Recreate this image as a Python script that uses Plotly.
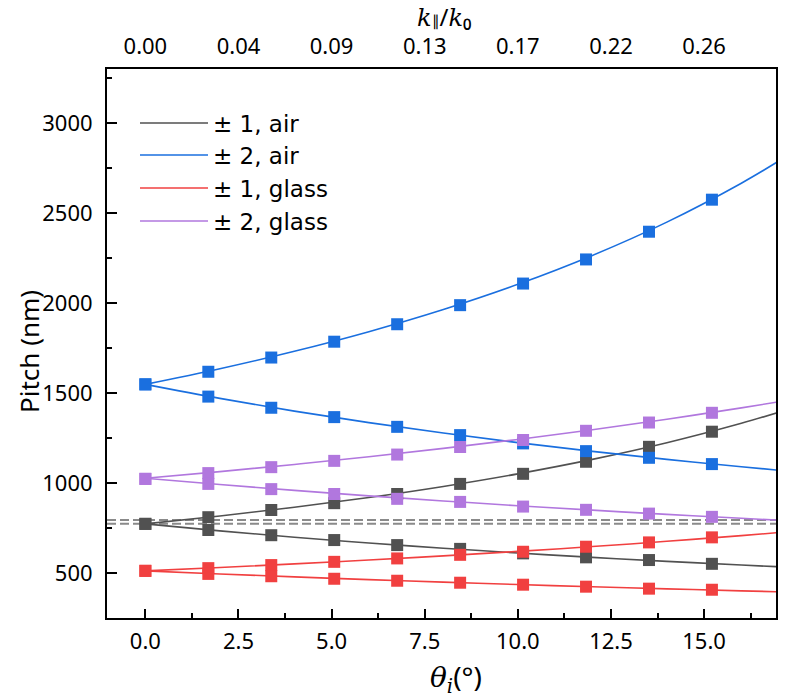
import plotly.graph_objects as go

# ---------------- data ----------------
# marker (simulated) points
theta_m = [0, 1.69, 3.38, 5.07, 6.76, 8.45, 10.14, 11.83, 13.52, 15.21]
air1_plus_m = [775, 812, 852, 890, 941, 997, 1053, 1120, 1203, 1287]
air1_minus_m = [775, 741, 712, 685, 657, 636, 611, 589, 574, 553]
air2_plus_m = [1550, 1620, 1699, 1787, 1884, 1990, 2110, 2244, 2398, 2576]
air2_minus_m = [1550, 1482, 1420, 1368, 1314, 1268, 1222, 1179, 1142, 1107]
glass1_plus_m = [514, 529, 546, 564, 583, 603, 620, 648, 672, 700]
glass1_minus_m = [514, 497, 484, 470, 459, 448, 437, 426, 415, 409]
glass2_plus_m = [1025, 1057, 1090, 1125, 1160, 1202, 1241, 1292, 1338, 1392]
glass2_minus_m = [1025, 997, 968, 941, 914, 897, 871, 853, 832, 814]

# line (analytical) points
theta_l = [0, 2, 4, 6, 8, 10, 12, 14, 16, 17]
air1_plus_l = [775, 818.4, 866.9, 921.4, 982.9, 1052.9, 1133.1, 1225.7, 1333.8, 1394.9]
air1_minus_l = [775, 736.0, 700.7, 668.7, 639.7, 613.2, 588.9, 566.6, 546.2, 536.6]
air2_plus_l = [1550, 1636.8, 1733.8, 1842.8, 1965.8, 2105.8, 2266.2, 2451.4, 2667.6, 2789.8]
air2_minus_l = [1550, 1472.0, 1401.4, 1337.4, 1279.4, 1226.4, 1177.8, 1133.2, 1092.4, 1073.2]
glass1_plus_l = [514, 532.6, 552.5, 574.0, 597.1, 622.0, 648.9, 678.0, 709.6, 726.4]
glass1_minus_l = [514, 496.7, 480.5, 465.4, 451.2, 438.0, 425.5, 413.9, 402.9, 397.7]
glass2_plus_l = [1028, 1065.2, 1105.1, 1148.0, 1194.2, 1244.0, 1297.8, 1356.1, 1419.2, 1452.7]
glass2_minus_l = [1028, 993.3, 961.0, 930.7, 902.4, 875.9, 851.1, 827.7, 805.9, 795.4]

ref_levels = [775, 797]

names = ["± 1, air", "± 2, air", "± 1, glass", "± 2, glass"]
colors = ["#515151", "#1A6FDF", "#F14040", "#B177DE"]

x_ticks = [0, 2.5, 5, 7.5, 10, 12.5, 15]
x_ticktext = ["0.0", "2.5", "5.0", "7.5", "10.0", "12.5", "15.0"]
top_ticktext = ["0.00", "0.04", "0.09", "0.13", "0.17", "0.22", "0.26"]
y_ticks = [500, 1000, 1500, 2000, 2500, 3000]

series_l = [(air1_plus_l, air1_minus_l), (air2_plus_l, air2_minus_l),
            (glass1_plus_l, glass1_minus_l), (glass2_plus_l, glass2_minus_l)]
series_m = [(air1_plus_m, air1_minus_m), (air2_plus_m, air2_minus_m),
            (glass1_plus_m, glass1_minus_m), (glass2_plus_m, glass2_minus_m)]

XR = [-1.03, 16.93]
YR = [252, 3302]

# plot-area geometry in pixels
W, H = 794, 700
ML, MR, MT, MB = 107, 18, 69, 82
PW, PH = W - ML - MR, H - MT - MB


def px_x(px):
    return (px - ML) / PW


def px_y(py):
    return (H - MB - py) / PH


fig = go.Figure()

# dashed reference lines
for lv in ref_levels:
    fig.add_trace(go.Scatter(x=[XR[0], XR[1]], y=[lv, lv], mode="lines",
                             line=dict(color="#8a8a8a", width=2, dash="9px,4px"),
                             showlegend=False, hoverinfo="skip"))

# analytical lines, one legend box per entry to match the row spacing
legend_ids = ["legend", "legend2", "legend3", "legend4"]
for name, col, (p, m), lg in zip(names, colors, series_l, legend_ids):
    fig.add_trace(go.Scatter(x=theta_l + [None] + theta_l, y=p + [None] + m,
                             mode="lines", name=name, legend=lg,
                             line=dict(color=col, width=1.6, shape="spline"),
                             connectgaps=False))

# simulated markers
for name, col, (p, m) in zip(names, colors, series_m):
    fig.add_trace(go.Scatter(x=theta_m + theta_m, y=p + m, mode="markers",
                             marker=dict(symbol="square", size=12, color=col, line=dict(width=0)),
                             showlegend=False, name=name))

# invisible trace for the top axis
fig.add_trace(go.Scatter(x=[0], y=[1000], xaxis="x2", mode="markers",
                         marker=dict(opacity=0), showlegend=False, hoverinfo="skip"))

FONT = "Noto Sans, Open Sans, sans-serif"
LEGFONT = "DejaVu Sans, Noto Sans, sans-serif"
SERIF = "DejaVu Serif"

row_px = [123, 155, 188, 221]
legends = {}
for lg, ry in zip(legend_ids, row_px):
    legends[lg] = dict(x=px_x(135), y=px_y(ry), xanchor="left", yanchor="middle",
                       bgcolor="rgba(0,0,0,0)", font=dict(size=23, family=LEGFONT),
                       itemwidth=68, borderwidth=0)

fig.update_layout(
    width=W, height=H,
    margin=dict(l=ML, r=MR, t=MT, b=MB),
    paper_bgcolor="white", plot_bgcolor="white",
    font=dict(family=FONT, size=22, color="black"),
    showlegend=True,
    **legends,
    xaxis=dict(range=XR, tickmode="array", tickvals=x_ticks, ticktext=x_ticktext,
               ticks="inside", ticklen=9, tickwidth=1.5, tickcolor="black",
               showline=True, linecolor="black", linewidth=2, mirror=True,
               showgrid=False, zeroline=False, ticklabelstandoff=3, automargin=False,
               minor=dict(ticks="inside", ticklen=5, tickwidth=1.5, dtick=1.25, tick0=0, tickcolor="black")),
    xaxis2=dict(range=XR, overlaying="x", side="top", tickmode="array",
                tickvals=x_ticks, ticktext=top_ticktext, ticks="", showline=False,
                showgrid=False, zeroline=False, ticklabelstandoff=10, automargin=False),
    yaxis=dict(range=YR, tickmode="array", tickvals=y_ticks,
               ticks="inside", ticklen=10, tickwidth=1.5, tickcolor="black",
               showline=True, linecolor="black", linewidth=2, mirror=True,
               showgrid=False, zeroline=False, ticklabelstandoff=8, automargin=False,
               minor=dict(ticks="inside", ticklen=5, tickwidth=1.5, dtick=250, tick0=0, tickcolor="black")),
)

# axis titles
fig.add_annotation(text="Pitch (nm)", textangle=-90, xref="paper", yref="paper",
                   x=px_x(29), y=px_y(352), xanchor="center", yanchor="middle",
                   showarrow=False, font=dict(size=26, family=FONT))
fig.add_annotation(text=f"<i><span style='font-family:{SERIF}'>θ</span></i><sub><i><span style='font-family:{SERIF}'>i</span></i></sub>(°)",
                   xref="paper", yref="paper", x=px_x(456), y=px_y(677),
                   xanchor="center", yanchor="middle", showarrow=False,
                   font=dict(size=28, family=FONT))
fig.add_annotation(text=f"<i><span style='font-family:{SERIF}'>k</span></i><span style='font-size:15px'>∥</span>/<i><span style='font-family:{SERIF}'>k</span></i>₀",
                   xref="paper", yref="paper", x=px_x(444), y=px_y(16),
                   xanchor="center", yanchor="middle", showarrow=False,
                   font=dict(size=24, family=FONT))

fig.write_html("out.html")
